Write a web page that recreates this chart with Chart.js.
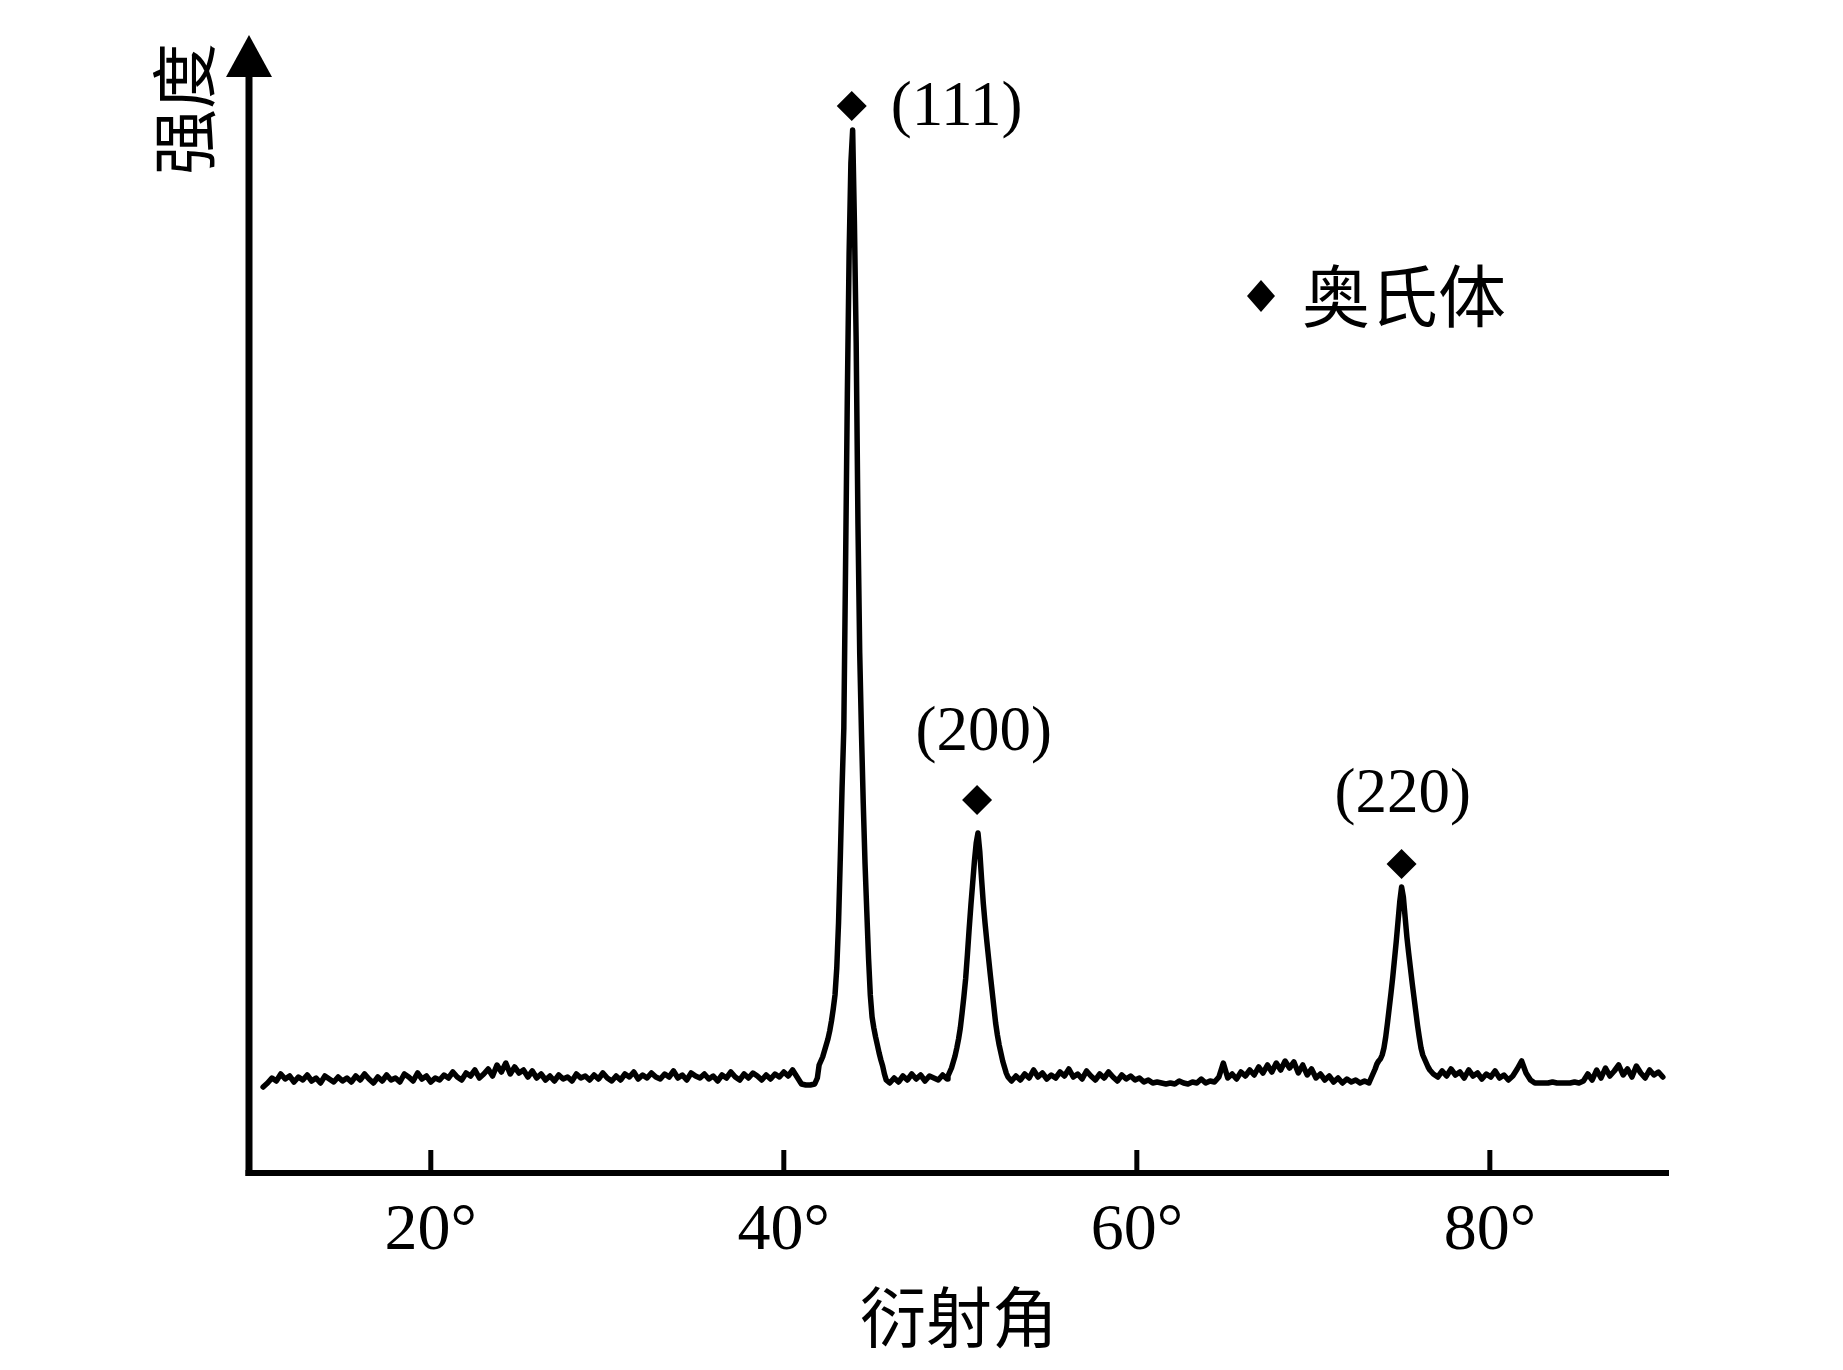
<!DOCTYPE html>
<html>
<head>
<meta charset="utf-8">
<script src="https://cdn.jsdelivr.net/npm/chart.js@4.4.0/dist/chart.umd.min.js"></script>
<style>html,body{margin:0;padding:0;background:#fff}canvas{display:block}</style>
</head>
<body>
<canvas id="c" width="1843" height="1370"></canvas>
<script>
// ---------- chart text ----------
const xTickValues = [20, 40, 60, 80];
const xTickLabels = ['20°', '40°', '60°', '80°'];
const xAxisTitle = '衍射角';
const yAxisTitle = '强度';
const legendLabel = '奥氏体';

// ---------- peak annotations (2θ, intensity) ----------
const peakLabels   = ['(111)', '(200)', '(220)'];
const markerAngles = [43.85, 50.95, 75.0];
const markerValues = [1067, 373, 309];
const labelAngles  = [46.06, 51.33, 75.07];
const labelValues  = [1065, 440, 378];
const labelAlign   = ['left', 'center', 'center'];

// ---------- XRD pattern: 2θ (deg) ----------
const twoTheta = [
  10.50,10.75,11.00,11.25,11.50,11.75,12.00,12.25,12.50,12.75,
  13.00,13.25,13.50,13.75,14.00,14.25,14.50,14.75,15.00,15.25,
  15.50,15.75,16.00,16.25,16.50,16.75,17.00,17.25,17.50,17.75,
  18.00,18.25,18.50,18.75,19.00,19.25,19.50,19.75,20.00,20.25,
  20.50,20.75,21.00,21.25,21.50,21.75,22.00,22.25,22.50,22.75,
  23.00,23.25,23.50,23.75,24.00,24.25,24.50,24.75,25.00,25.25,
  25.50,25.75,26.00,26.25,26.50,26.75,27.00,27.25,27.50,27.75,
  28.00,28.25,28.50,28.75,29.00,29.25,29.50,29.75,30.00,30.25,
  30.50,30.75,31.00,31.25,31.50,31.75,32.00,32.25,32.50,32.75,
  33.00,33.25,33.50,33.75,34.00,34.25,34.50,34.75,35.00,35.25,
  35.50,35.75,36.00,36.25,36.50,36.75,37.00,37.25,37.50,37.75,
  38.00,38.25,38.50,38.75,39.00,39.25,39.50,39.75,40.00,40.25,
  40.50,40.75,41.00,41.25,41.50,41.75,
  41.9,42.0,42.1,42.2,42.3,42.4,42.5,42.6,42.7,42.8,
  42.9,43.0,43.1,43.2,43.3,43.4,43.5,43.6,43.7,43.8,
  43.9,44.0,44.1,44.2,44.3,44.4,44.5,44.6,44.7,44.8,
  44.9,45.0,45.1,45.2,45.3,45.4,45.5,45.6,45.7,45.8,
  46.00,46.25,46.50,46.75,47.00,47.25,47.50,47.75,48.00,48.25,
  48.50,48.75,49.00,49.25,
  49.3,49.4,49.5,49.6,49.7,49.8,49.9,50.0,50.1,50.2,
  50.3,50.4,50.5,50.6,50.7,50.8,50.9,51.0,51.1,51.2,
  51.3,51.4,51.5,51.6,51.7,51.8,51.9,52.0,52.1,52.2,
  52.3,52.4,52.5,52.6,52.7,
  52.90,53.15,53.40,53.65,53.90,54.15,54.40,54.65,54.90,55.15,
  55.40,55.65,55.90,56.15,56.40,56.65,56.90,57.15,57.40,57.65,
  57.90,58.15,58.40,58.65,58.90,59.15,59.40,59.65,59.90,60.15,
  60.40,60.65,60.90,61.15,61.40,61.65,61.90,62.15,62.40,62.65,
  62.90,63.15,63.40,63.65,63.90,64.15,64.40,64.65,64.90,65.15,
  65.40,65.65,65.90,66.15,66.40,66.65,66.90,67.15,67.40,67.65,
  67.90,68.15,68.40,68.65,68.90,69.15,69.40,69.65,69.90,70.15,
  70.40,70.65,70.90,71.15,71.40,71.65,71.90,72.15,72.40,72.65,
  72.90,73.15,
  73.2,73.3,73.4,73.5,73.6,73.7,73.8,73.9,74.0,74.1,
  74.2,74.3,74.4,74.5,74.6,74.7,74.8,74.9,75.0,75.1,
  75.2,75.3,75.4,75.5,75.6,75.7,75.8,75.9,76.0,76.1,
  76.2,76.3,76.4,76.5,76.6,
  76.80,77.05,77.30,77.55,77.80,78.05,78.30,78.55,78.80,79.05,
  79.30,79.55,79.80,80.05,80.30,80.55,80.80,81.05,81.30,81.55,
  81.80,82.05,82.30,82.55,82.80,83.05,83.30,83.55,83.80,84.05,
  84.30,84.55,84.80,85.05,85.30,85.55,85.80,86.05,86.30,86.55,
  86.80,87.05,87.30,87.55,87.80,88.05,88.30,88.55,88.80,89.05,
  89.30,89.55,89.80
];

// ---------- XRD pattern: intensity (a.u.) ----------
const intensity = [
  86, 90, 95, 92, 99, 94, 97, 91, 96, 93,
  98, 92, 95, 90, 97, 94, 91, 96, 92, 95,
  91, 97, 93, 99, 94, 90, 96, 92, 98, 93,
  95, 91, 99, 96, 92,100, 94, 97, 91, 95,
  93, 98, 95,101, 96, 93,100, 97,103, 95,
  99,104, 97,108,101,110, 99,106,100,103,
  96,102, 95, 99, 93, 97, 92, 98, 94, 96,
  92, 99, 95, 97, 93, 98, 94,100, 95, 92,
  97, 93, 99, 96,101, 94, 98, 95,100, 96,
  94, 99, 96,102, 95, 98, 93,100, 97, 95,
  99, 94, 97, 92, 98, 95,101, 96, 93, 99,
  95,100, 97, 93, 98, 94, 99, 96,101, 97,
 103, 96, 89, 88, 88, 89,
  95,108,112,116,122,128,134,142,152,164,
 178,205,250,315,385,445,610,780,920,1010,
1043,950,830,650,520,440,370,310,262,215,
 178,156,145,136,128,120,113,107, 99, 93,
  90, 95, 91, 97, 93, 99, 94, 98, 92, 97,
  95, 93, 98, 94,
  97,101,105,111,117,125,134,145,160,176,
 194,218,244,268,290,312,330,340,322,295,
 270,250,232,215,198,182,166,150,138,128,
 120,112,106,100, 96,
  92, 97, 93, 99, 95,103, 96,100, 94, 98,
  95,101, 97,104, 96, 99, 94,102, 97, 93,
  99, 95,101, 96, 92, 98, 94, 97, 93, 95,
  91, 93, 90, 91, 90, 89, 90, 89, 92, 90,
  89, 91, 90, 94, 90, 92, 91, 96,110, 95,
  99, 94,101, 97,103, 98,106,100,108,101,
 110,103,112,105,111,100,108, 98,104, 95,
  99, 93, 97, 91, 95, 90, 94, 91, 93, 90,
  92, 90,
  92, 96,100,104,109,112,114,118,125,136,
 150,165,180,196,214,232,252,272,286,276,
 256,236,220,205,190,176,162,148,136,125,
 118,114,110,106,103,
  99, 96,102, 97,104, 98,101, 95,103, 97,
 100, 94, 99, 96,102, 95, 98, 93, 97,104,
 112,100, 93, 90, 90, 90, 90, 91, 90, 90,
  90, 90, 91, 90, 92, 99, 93,103, 95,105,
  97,102,108, 98,104, 96,107,100, 95,103,
  98,101, 96
];

const pattern = twoTheta.map((t, i) => ({ x: t, y: intensity[i] }));
const markers = markerAngles.map((t, i) => ({ x: t, y: markerValues[i] }));

const SERIF = '"Liberation Serif", "Times New Roman", serif';
const CJK = '"Noto Sans CJK SC", sans-serif';

const bgPlugin = {
  id: 'bg',
  beforeDraw(chart) {
    const c = chart.ctx;
    c.save();
    c.fillStyle = '#fff';
    c.fillRect(0, 0, chart.width, chart.height);
    c.restore();
  }
};

const axesPlugin = {
  id: 'axesDecor',
  afterDraw(chart) {
    const { ctx: c, chartArea: a, scales: { x, y } } = chart;
    c.save();
    c.fillStyle = '#000';
    c.strokeStyle = '#000';
    c.lineCap = 'butt';
    // x axis line
    c.lineWidth = 6;
    c.beginPath();
    c.moveTo(a.left - 3.5, a.bottom);
    c.lineTo(a.right, a.bottom);
    c.stroke();
    // y axis line
    c.lineWidth = 7;
    c.beginPath();
    c.moveTo(a.left, a.bottom + 3);
    c.lineTo(a.left, a.top + 38);
    c.stroke();
    // arrow head
    c.beginPath();
    c.moveTo(a.left, a.top);
    c.lineTo(a.left - 23, a.top + 42);
    c.lineTo(a.left + 23, a.top + 42);
    c.closePath();
    c.fill();
    // ticks + tick labels
    c.lineWidth = 5;
    c.font = '66px ' + SERIF;
    c.textAlign = 'center';
    c.textBaseline = 'middle';
    xTickValues.forEach((v, i) => {
      const px = x.getPixelForValue(v);
      c.beginPath();
      c.moveTo(px, a.bottom);
      c.lineTo(px, a.bottom - 23);
      c.stroke();
      c.fillText(xTickLabels[i], px, a.bottom + 59);
    });
    // x title
    c.font = '66px ' + CJK;
    c.fillText(xAxisTitle, (a.left + a.right) / 2, a.bottom + 144);
    // y title (rotated)
    c.save();
    c.translate(a.left - 65, a.top + 74);
    c.rotate(-Math.PI / 2);
    c.fillText(yAxisTitle, 0, 0);
    c.restore();
    // peak labels
    c.font = '63px ' + SERIF;
    peakLabels.forEach((t, i) => {
      c.textAlign = labelAlign[i];
      c.fillText(t, x.getPixelForValue(labelAngles[i]), y.getPixelForValue(labelValues[i]));
    });
    // legend
    const lx = 1261, ly = 296;
    c.beginPath();
    c.moveTo(lx, ly - 16);
    c.lineTo(lx + 14, ly);
    c.lineTo(lx, ly + 16);
    c.lineTo(lx - 14, ly);
    c.closePath();
    c.fill();
    c.font = '68px ' + CJK;
    c.textAlign = 'left';
    c.fillText(legendLabel, 1302, ly);
    c.restore();
  }
};

function build() {
  new Chart(document.getElementById('c').getContext('2d'), {
    type: 'scatter',
    data: {
      datasets: [
        {
          data: pattern,
          showLine: true,
          borderColor: '#000',
          borderWidth: 5.5,
          borderJoinStyle: 'round',
          borderCapStyle: 'round',
          pointRadius: 0,
          tension: 0
        },
        {
          data: markers,
          showLine: false,
          pointStyle: 'rectRot',
          pointRadius: 15,
          backgroundColor: '#000',
          borderColor: '#000',
          borderWidth: 0
        }
      ]
    },
    options: {
      responsive: false,
      animation: false,
      devicePixelRatio: 1,
      events: [],
      layout: { padding: { left: 249, right: 174, top: 35, bottom: 197 } },
      plugins: { legend: { display: false }, tooltip: { enabled: false } },
      scales: {
        x: { type: 'linear', display: false, min: 9.7, max: 90.15 },
        y: { type: 'linear', display: false, min: 0, max: 1138 }
      }
    },
    plugins: [bgPlugin, axesPlugin]
  });
}

Promise.all([
  document.fonts.load('66px "Liberation Serif"'),
  document.fonts.load('66px "Noto Sans CJK SC"', '衍射角强度奥氏体')
]).then(build, build);
</script>
</body>
</html>
